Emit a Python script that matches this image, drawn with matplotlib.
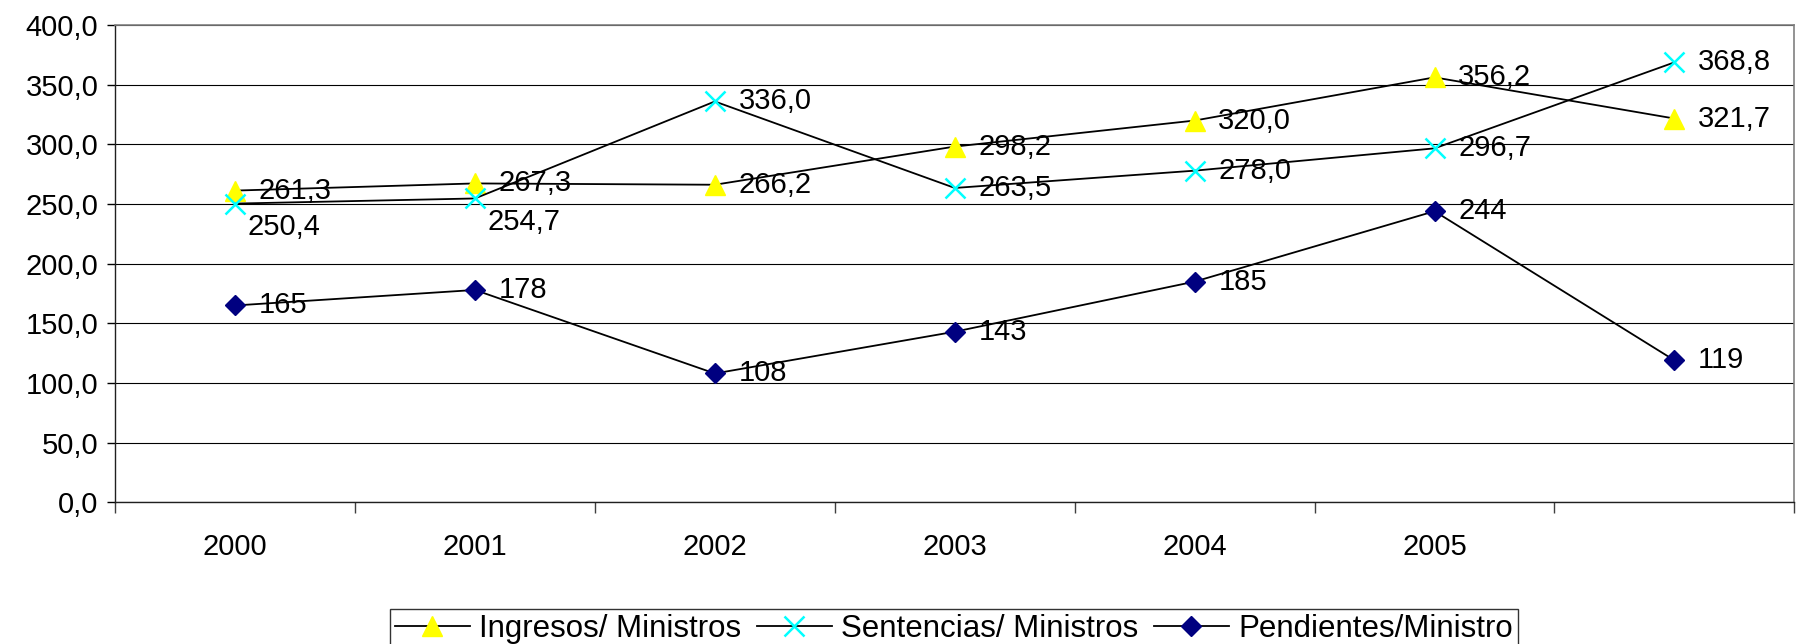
import numpy as np
import matplotlib
matplotlib.use("Agg")
import matplotlib.pyplot as plt
from matplotlib.ticker import FixedLocator, FuncFormatter

plt.rcParams['font.family'] = ['Liberation Sans', 'DejaVu Sans']

# data
categories = ['2000', '2001', '2002', '2003', '2004', '2005', '']
ingresos = [261.3, 267.3, 266.2, 298.2, 320.0, 356.2, 321.7]
sentencias = [250.4, 254.7, 336.0, 263.5, 278.0, 296.7, 368.8]
pendientes = [165, 178, 108, 143, 185, 244, 119]
series_names = ['Ingresos/ Ministros', 'Sentencias/ Ministros', 'Pendientes/Ministro']

x = np.arange(len(categories))

fig = plt.figure(figsize=(17.98, 6.44), dpi=100)
ax = fig.add_axes([0.064, 0.22, 0.934, 0.741])

def comma(v, dec=1):
    return f"{v:.{dec}f}".replace('.', ',')

# lines
l1, = ax.plot(x, ingresos, color='black', lw=1.3, marker='^', ms=14,
              mfc='#FFFF00', mec='#FFFF00', label=series_names[0], zorder=3)
l2, = ax.plot(x, sentencias, color='black', lw=1.3, marker='x', ms=15,
              mec='#00FFFF', mew=1.8, label=series_names[1], zorder=3)
l3, = ax.plot(x, pendientes, color='black', lw=1.3, marker='D', ms=10,
              mfc='#000080', mec='#000080', label=series_names[2], zorder=3)

fs = 21
# data labels
for i, v in enumerate(ingresos):
    ax.annotate(comma(v), (x[i], v), xytext=(17, 0), textcoords='offset points',
                ha='left', va='center', fontsize=fs)
for i, v in enumerate(sentencias):
    if i < 2:
        off = (9, -17)
    else:
        off = (17, 0)
    ax.annotate(comma(v), (x[i], v), xytext=off, textcoords='offset points',
                ha='left', va='center', fontsize=fs)
for i, v in enumerate(pendientes):
    ax.annotate(str(v), (x[i], v), xytext=(17, 0), textcoords='offset points',
                ha='left', va='center', fontsize=fs)

# axes
ax.set_xlim(-0.5, len(categories) - 0.5)
ax.set_ylim(0, 400)
ax.set_yticks(np.arange(0, 401, 50))
ax.yaxis.set_major_formatter(FuncFormatter(lambda v, p: comma(v)))
ax.grid(axis='y', color='black', lw=0.8)
ax.set_axisbelow(True)

ax.set_xticks(x)
ax.set_xticklabels(categories)
ax.xaxis.set_minor_locator(FixedLocator(np.arange(-0.5, len(categories), 1.0)))
ax.tick_params(axis='x', which='major', length=0, pad=22, labelsize=fs)
ax.tick_params(axis='x', which='minor', length=8, width=1, color='#404040')
ax.tick_params(axis='y', length=6, width=1, pad=6, labelsize=fs)

for s in ['top', 'right']:
    ax.spines[s].set_color('#808080')
    ax.spines[s].set_linewidth(1.2)
for s in ['left', 'bottom']:
    ax.spines[s].set_color('#202020')
    ax.spines[s].set_linewidth(1.0)

leg = fig.legend(handles=[l1, l2, l3], loc='upper center',
                 bbox_to_anchor=(0.5305, 0.054), ncol=3, fontsize=22.5,
                 frameon=True, fancybox=False, edgecolor='black',
                 handlelength=2.4, handletextpad=0.3, columnspacing=0.5,
                 borderpad=0.15, borderaxespad=0)
leg.get_frame().set_linewidth(1.0)

fig.savefig('out.png', dpi=100)
